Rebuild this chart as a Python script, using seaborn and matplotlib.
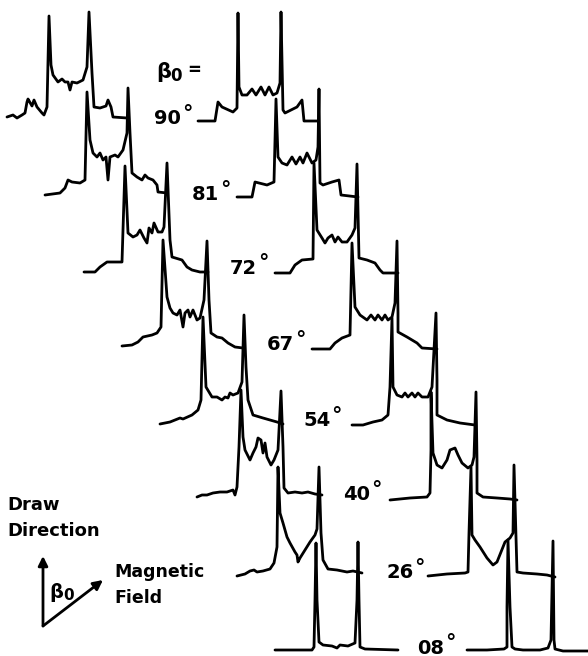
import matplotlib
matplotlib.use("Agg")
import matplotlib.pyplot as plt
import pandas as pd
import seaborn as sns

# Orientation angles of the stacked spectra (top to bottom)
angles = ["90", "81", "72", "67", "54", "40", "26", "08"]

# Each trace: (frequency offset, signal intensity) pairs
left_90 = [(0, 1), (6, 3), (10, 0), (15, 3), (18, 5), (20, 16), (21, 19), (25, 12), (27, 18), (30, 11),
           (35, 5), (37, 3), (40, 11), (42, 102), (44, 53), (46, 43), (51, 36), (55, 39), (58, 36),
           (61, 36), (63, 28), (65, 36), (70, 35), (76, 38), (80, 51), (82, 106), (85, 45), (87, 11),
           (93, 10), (99, 12), (101, 18), (104, 11), (106, 1), (120, 0)]
right_90 = [(0, 0), (17, 0), (20, 19), (24, 14), (35, 9), (39, 13), (40, 108), (41, 34), (44, 26),
            (49, 26), (54, 32), (58, 26), (63, 34), (67, 26), (71, 34), (75, 26), (79, 28), (82, 38),
            (83, 109), (85, 11), (87, 8), (99, 14), (104, 21), (106, 0), (120, 0)]
left_81 = [(0, 0), (15, 2), (20, 7), (23, 15), (27, 13), (35, 12), (40, 15), (42, 103), (45, 55),
           (48, 42), (52, 38), (55, 42), (58, 35), (61, 38), (63, 15), (65, 38), (70, 40), (73, 38),
           (78, 45), (82, 62), (83, 107), (85, 62), (87, 22), (92, 18), (97, 15), (100, 20), (103, 17),
           (108, 15), (112, 10), (113, 3), (122, 2)]
right_81 = [(0, 0), (15, 0), (18, 15), (30, 12), (37, 15), (39, 98), (41, 40), (45, 34), (50, 32),
            (55, 40), (59, 33), (63, 40), (66, 34), (70, 44), (75, 34), (79, 37), (81, 50), (82, 108),
            (83, 14), (86, 12), (95, 15), (102, 17), (104, 2), (121, 0)]
left_72 = [(0, 0), (11, 0), (16, 5), (23, 10), (38, 10), (41, 106), (44, 39), (49, 35), (53, 37),
           (56, 42), (60, 34), (63, 29), (65, 44), (68, 39), (70, 49), (74, 40), (78, 40), (80, 45),
           (83, 109), (86, 32), (88, 15), (98, 12), (103, 5), (108, 2), (116, 0), (124, 0)]
right_72 = [(0, 0), (15, 0), (20, 8), (27, 13), (38, 14), (39, 110), (42, 43), (47, 35), (50, 30),
            (53, 35), (57, 38), (60, 31), (63, 36), (67, 31), (72, 31), (77, 38), (80, 45), (82, 109),
            (84, 15), (92, 13), (100, 10), (105, 3), (108, 0), (123, 0)]
left_67 = [(0, 0), (10, 1), (16, 4), (21, 9), (30, 11), (35, 13), (39, 19), (41, 106), (45, 49),
           (48, 38), (51, 33), (55, 31), (58, 36), (61, 19), (63, 33), (66, 36), (68, 29), (71, 36),
           (75, 26), (78, 28), (82, 46), (85, 105), (87, 46), (89, 13), (95, 9), (100, 8), (106, 3),
           (113, -1), (121, -2)]
right_67 = [(0, 0), (18, 0), (23, 6), (30, 11), (38, 14), (40, 106), (43, 42), (48, 34), (55, 29),
            (59, 34), (63, 29), (66, 34), (70, 29), (73, 34), (76, 29), (80, 32), (83, 46), (85, 108),
            (86, 36), (86, 17), (95, 12), (105, 6), (110, 1), (125, 0)]
left_54 = [(0, 0), (10, 2), (20, 6), (23, 5), (32, 9), (38, 14), (41, 24), (43, 107), (46, 37),
           (52, 27), (57, 27), (62, 24), (65, 27), (68, 26), (70, 31), (73, 29), (78, 31), (82, 42),
           (84, 109), (86, 57), (88, 24), (93, 9), (103, 6), (117, 2), (123, 0)]
right_54 = [(0, 0), (11, 0), (21, 3), (30, 5), (36, 10), (38, 38), (40, 107), (41, 38), (45, 30),
            (50, 28), (53, 32), (56, 28), (60, 32), (63, 28), (66, 32), (70, 28), (76, 28), (80, 38),
            (84, 112), (85, 45), (85, 10), (95, 5), (108, 2), (123, 0)]
left_40 = [(0, 0), (5, 2), (10, 2), (16, 4), (23, 5), (30, 5), (36, 7), (38, 2), (40, 10), (42, 50),
           (44, 107), (46, 60), (48, 47), (53, 37), (56, 44), (59, 50), (61, 59), (64, 57), (66, 44),
           (68, 54), (70, 40), (74, 32), (77, 37), (81, 47), (84, 106), (86, 50), (87, 9), (91, 4),
           (98, 5), (105, 4), (111, 5), (118, 3), (125, 2)]
right_40 = [(0, 0), (20, 2), (37, 3), (40, 7), (41, 50), (41, 108), (43, 47), (47, 35), (52, 32),
            (57, 40), (60, 50), (65, 52), (68, 45), (72, 37), (78, 32), (82, 35), (84, 43), (86, 108),
            (87, 40), (87, 7), (93, 3), (107, 2), (120, 1), (127, 0)]
left_26 = [(0, 0), (8, 2), (13, 5), (17, 6), (20, 4), (26, 5), (33, 7), (37, 13), (40, 29), (41, 109),
           (43, 63), (46, 53), (50, 39), (53, 33), (58, 24), (60, 21), (61, 14), (63, 18), (68, 26),
           (73, 34), (78, 41), (80, 47), (82, 109), (84, 43), (86, 16), (91, 7), (100, 6), (110, 4),
           (116, 5), (125, 3)]
right_26 = [(0, 0), (19, 2), (37, 3), (40, 4), (41, 43), (43, 109), (44, 41), (47, 36), (52, 29),
            (59, 18), (65, 11), (69, 14), (73, 24), (77, 34), (82, 38), (85, 43), (86, 111), (88, 39),
            (89, 4), (95, 3), (109, 2), (119, 1), (127, -1)]
left_08 = [(0, 0), (37, 0), (39, 3), (40, 50), (41, 107), (42, 50), (44, 8), (48, 5), (57, 4),
           (62, 2), (65, 5), (73, 4), (80, 7), (82, 50), (83, 108), (84, 50), (85, 3), (90, 1), (123, 0)]
right_08 = [(0, 0), (20, 0), (37, 1), (40, 3), (40, 43), (41, 110), (43, 43), (45, 3), (48, 1),
            (56, 0), (73, 0), (81, 2), (84, 10), (86, 109), (87, 10), (88, 1), (96, -1), (121, -1)]

left_traces = [left_90, left_81, left_72, left_67, left_54, left_40, left_26, left_08]
right_traces = [right_90, right_81, right_72, right_67, right_54, right_40, right_26, right_08]

# Stacking offsets (canvas units, y measured downward)
left_x0 = [7, 45, 84, 122, 160, 197, 237, 275]
left_y0 = [118, 195, 272, 346, 424, 497, 576, 650]
right_x0 = [198, 237, 275, 312, 352, 390, 428, 467]
right_y0 = [121, 197, 273, 349, 425, 500, 576, 650]
label_x = [154, 192, 230, 267, 303, 343, 386, 417]
label_y = [119, 195, 268, 345, 421, 495, 573, 648]

rows = []
for i, ang in enumerate(angles):
    for side, traces, xs, ys in (("L", left_traces, left_x0, left_y0),
                                 ("R", right_traces, right_x0, right_y0)):
        for k, (u, h) in enumerate(traces[i]):
            rows.append({"trace": f"{ang}{side}", "order": k,
                         "x": xs[i] + u, "y": ys[i] - h})
df = pd.DataFrame(rows)

sns.set_theme(style="white")
plt.rcParams["font.family"] = ["DejaVu Sans"]

W, H = 588, 656
fig = plt.figure(figsize=(W / 100, H / 100), dpi=100)
ax = fig.add_axes([0, 0, 1, 1])

sns.lineplot(data=df, x="x", y="y", units="trace", estimator=None, sort=False,
             color="black", linewidth=2.0, legend=False, ax=ax)
for line in ax.get_lines():
    line.set_solid_joinstyle("round")
    line.set_solid_capstyle("round")

ax.set_xlim(0, W)
ax.set_ylim(H, 0)
ax.axis("off")

txt = dict(color="black", fontweight="bold", family=["DejaVu Sans"])
for i, ang in enumerate(angles):
    ax.text(label_x[i], label_y[i], ang, fontsize=14, ha="left", va="center", **txt)
    # raised degree mark, set slightly apart from the digits
    ax.text(label_x[i] + 28, label_y[i] - 5, "°", fontsize=15, ha="left", va="center", **txt)

# header  β0 =
ax.text(156, 72, "β", fontsize=15, ha="left", va="center", **txt)
ax.text(170, 76, "0", fontsize=12, ha="left", va="center", **txt)
ax.text(187, 70, "=", fontsize=12, ha="left", va="center", **txt)

# orientation key
ax.text(7, 505, "Draw", fontsize=13, ha="left", va="center", **txt)
ax.text(7, 531, "Direction", fontsize=13, ha="left", va="center", **txt)
ax.text(114, 572, "Magnetic", fontsize=12.5, ha="left", va="center", **txt)
ax.text(114, 598, "Field", fontsize=12.5, ha="left", va="center", **txt)
arrow = dict(arrowstyle="-|>", color="black", lw=2, mutation_scale=14, shrinkA=0, shrinkB=0)
ax.annotate("", xy=(43, 556), xytext=(43, 626), arrowprops=arrow)
ax.annotate("", xy=(103, 580), xytext=(43, 626), arrowprops=arrow)
ax.text(49, 592, "β", fontsize=14, ha="left", va="center", **txt)
ax.text(63, 596, "0", fontsize=11, ha="left", va="center", **txt)

fig.savefig("out.png", dpi=100, facecolor="white")
